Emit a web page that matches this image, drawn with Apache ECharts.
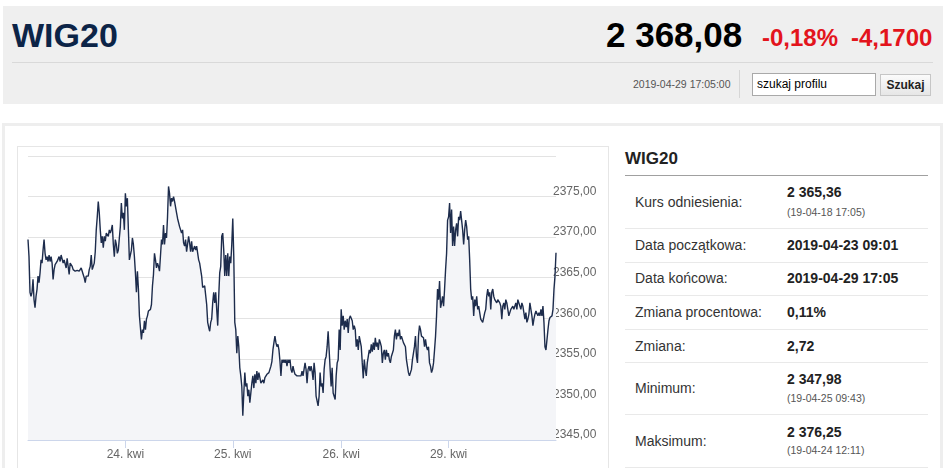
<!DOCTYPE html>
<html>
<head>
<meta charset="utf-8">
<script src="https://cdn.jsdelivr.net/npm/echarts@6/dist/echarts.min.js"></script>
<style>
  html, body { margin:0; padding:0; width:945px; height:468px; overflow:hidden; background:#fff;
    font-family:'Liberation Sans', Arial, sans-serif; }
  .a { position:absolute; white-space:nowrap; }
  .lbl { position:absolute; left:635px; font-size:14px; line-height:16px; color:#333; white-space:nowrap; }
  .val { position:absolute; left:787px; font-size:14px; line-height:16px; color:#222; font-weight:bold; white-space:nowrap; }
  .sub { position:absolute; left:787px; font-size:10.5px; line-height:12px; color:#555; white-space:nowrap; }
  .sep { position:absolute; left:625px; width:303px; height:1px; background:#e9e9e9; }
</style>
</head>
<body>
<!-- header -->
<div class="a" style="left:3px;top:6px;width:940px;height:98px;background:#efefef;"></div>
<div class="a" style="left:12px;top:18px;font-size:34px;line-height:34px;font-weight:bold;color:#0c2447;">WIG20</div>
<div class="a" style="left:606px;top:17px;font-size:35px;line-height:35px;font-weight:bold;color:#000;">2 368,08</div>
<div class="a" style="left:762px;top:26px;font-size:24px;line-height:24px;font-weight:bold;color:#e3141c;">-0,18%</div>
<div class="a" style="left:851px;top:26px;font-size:24px;line-height:24px;font-weight:bold;color:#e3141c;">-4,1700</div>
<div class="a" style="left:12px;top:62px;width:921px;height:1px;background:#d9d9d9;"></div>
<div class="a" style="left:633px;top:77px;font-size:10.5px;line-height:14px;color:#555;">2019-04-29 17:05:00</div>
<div class="a" style="left:739px;top:70px;width:1px;height:28px;background:#d6d6d6;"></div>
<div class="a" style="left:752px;top:73px;width:122px;height:21px;border:1px solid #a9a9a9;background:#fff;box-sizing:content-box;">
  <span style="position:absolute;left:4px;top:4px;font-size:12px;line-height:13px;color:#000;">szukaj profilu</span>
</div>
<div class="a" style="left:880px;top:74px;width:49px;height:20px;border:1px solid #c6c6c6;background:linear-gradient(#fbfbfb,#e6e6e6);text-align:center;">
  <span style="font-size:12px;line-height:20px;font-weight:bold;color:#222;">Szukaj</span>
</div>

<!-- content box -->
<div class="a" style="left:2px;top:123px;width:935px;height:400px;border:3px solid #eeeeee;"></div>
<div class="a" style="left:17px;top:146px;width:590px;height:340px;border:1px solid #e6e6e6;"></div>
<div id="chart" class="a" style="left:18px;top:147px;width:589px;height:321px;"></div>

<!-- right panel -->
<div class="a" style="left:625px;top:150px;font-size:17px;line-height:17px;font-weight:bold;color:#222;">WIG20</div>
<div class="a" style="left:625px;top:175px;width:303px;height:1px;background:#a0a0a0;"></div>

<div class="lbl" style="top:194px;">Kurs odniesienia:</div>
<div class="val" style="top:184px;">2 365,36</div>
<div class="sub" style="top:206px;">(19-04-18 17:05)</div>
<div class="sep" style="top:228px;"></div>

<div class="lbl" style="top:237px;">Data początkowa:</div>
<div class="val" style="top:237px;">2019-04-23 09:01</div>
<div class="sep" style="top:262px;"></div>

<div class="lbl" style="top:270px;">Data końcowa:</div>
<div class="val" style="top:270px;">2019-04-29 17:05</div>
<div class="sep" style="top:295px;"></div>

<div class="lbl" style="top:304px;">Zmiana procentowa:</div>
<div class="val" style="top:304px;">0,11%</div>
<div class="sep" style="top:329px;"></div>

<div class="lbl" style="top:338px;">Zmiana:</div>
<div class="val" style="top:338px;">2,72</div>
<div class="sep" style="top:362px;"></div>

<div class="lbl" style="top:380px;">Minimum:</div>
<div class="val" style="top:371px;">2 347,98</div>
<div class="sub" style="top:392px;">(19-04-25 09:43)</div>
<div class="sep" style="top:414px;"></div>

<div class="lbl" style="top:433px;">Maksimum:</div>
<div class="val" style="top:424px;">2 376,25</div>
<div class="sub" style="top:444px;">(19-04-24 12:11)</div>
<div class="sep" style="top:467px;"></div>

<script>
// ---- data ----
const dayLabels = ['23. kwi', '24. kwi', '25. kwi', '26. kwi', '29. kwi'];

const day23 = [2369.7,2367.6,2363.2,2362.7,2363.2,2364.8,2362.3,2361.3,2362.7,2363.6,
2365.2,2364.4,2365.6,2367.2,2366.8,2368.4,2369.7,2368.0,2367.2,2367.6,
2367.0,2367.8,2367.0,2367.6,2366.8,2364.8,2366.0,2366.6,2366.4,2367.0,
2366.8,2367.6,2367.0,2367.8,2367.6,2366.8,2367.2,2367.0,2366.2,2367.4,
2367.6,2365.4,2366.8,2367.0,2366.4,2366.0,2366.1,2365.8,2366.0,2365.9,
2366.1,2365.8,2366.0,2366.2,2365.8,2365.6,2365.0,2364.4,2365.2,2365.4,
2365.2,2366.0,2366.4,2367.8,2366.0,2366.4,2366.8,2368.2,2370.9,2372.5,
2374.4,2373.0,2370.9,2369.3,2370.1,2368.7,2370.1,2369.5,2370.5,2370.7,
2370.1,2370.9,2370.5,2370.9,2371.5,2369.1,2367.6,2369.7,2369.1,2368.0,
2368.4,2369.9,2371.3,2374.2,2372.3,2373.0,2370.9];

const day24 = [2375.4,2373.8,2374.8,2370.9,2367.2,2367.2,2368.4,2369.9,2369.1,2367.6,
2365.6,2363.2,2365.8,2363.6,2360.3,2360.3,2357.4,2358.6,2358.2,2359.7,
2358.6,2359.9,2360.3,2360.9,2360.7,2361.1,2361.7,2364.0,2365.4,2368.0,
2367.2,2366.2,2366.8,2366.4,2365.8,2365.8,2369.7,2369.1,2371.5,2369.1,
2370.5,2369.9,2372.5,2376.25,2375.4,2373.8,2374.8,2374.4,2375.0,2374.4,
2374.6,2373.0,2372.3,2372.5,2371.3,2371.3,2370.5,2370.9,2369.3,2368.9,
2369.7,2368.2,2368.0,2370.1,2369.3,2368.2,2369.5,2368.2,2368.0,2368.9,
2368.4,2368.9,2369.1,2367.2,2366.8,2366.0,2365.2,2363.8,2364.0,2364.0,
2363.8,2361.7,2359.5,2358.9,2358.4,2359.5,2359.9,2361.9,2363.2,2361.9,
2363.2,2361.1,2359.1,2362.7,2365.6,2366.4,2370.1,2370.5,2368.4,2365.2,
2367.8,2365.2,2368.0,2365.2,2367.6,2366.8,2369.1];

const day25 = [2372.3,2367.6,2359.5,2358.6,2355.7,2357.8,2356.5,2353.9,2352.9,2351.6,
2347.98,2350.8,2353.3,2351.6,2352.0,2350.4,2351.2,2349.6,2350.8,2352.0,
2352.9,2351.4,2353.1,2352.0,2353.5,2352.4,2353.3,2352.7,2352.0,2351.8,
2352.4,2352.0,2352.7,2352.7,2353.1,2352.9,2353.3,2353.7,2354.1,2354.7,
2356.1,2357.0,2357.8,2357.0,2356.5,2356.8,2356.1,2354.7,2352.9,2354.9,
2354.5,2354.9,2354.5,2354.9,2354.1,2354.9,2354.5,2354.9,2353.7,2353.3,
2354.1,2353.5,2353.1,2353.1,2352.9,2353.1,2352.9,2353.1,2352.9,2353.5,
2352.9,2353.7,2354.5,2353.7,2352.0,2353.7,2354.1,2353.5,2354.1,2353.5,
2352.4,2354.5,2353.3,2350.4,2350.2,2349.2,
2350.4,2353.3,2351.6,2352.0,2350.8,2353.7,2354.9,2355.3,2356.5,2358.4,
2356.1,2353.7,2351.6,2353.9,2350.8,2350.4,2350.0,2352.9,2354.5,2354.9,2358.6,2356.1];

const day26 = [2361.1,2359.1,2360.3,2358.6,2359.7,2358.9,2359.9,2358.2,2359.9,2360.3,
2360.5,2359.7,2358.6,2359.1,2358.6,2356.5,2357.4,2356.1,2357.8,2358.0,
2356.5,2354.5,2352.6,2354.9,2353.7,2352.9,2354.5,2355.3,2356.1,2355.7,
2356.8,2355.9,2357.0,2356.1,2357.6,2356.5,2357.0,2356.1,2357.4,2357.0,
2356.5,2354.5,2355.7,2356.1,2354.9,2356.1,2355.3,2355.7,2354.9,2354.5,
2355.3,2355.7,2356.1,2357.8,2358.6,2357.4,2358.2,2357.8,2358.6,2357.4,
2357.8,2357.4,2357.0,2357.0,2356.5,2354.9,2354.1,2353.3,2352.9,2352.9,
2353.7,2354.9,2354.9,2356.5,2357.8,2355.3,2354.5,2357.8,2359.1,2358.6,
2357.8,2357.6,2357.6,2356.5,2357.4,2356.5,2356.1,2356.5,2354.5,2354.1,
2353.3,2353.7,2354.5,2356.1,2357.8,2360.3,2363.6,2362.3,2364.6,2361.3,
2361.9,2362.7,2361.5,2363.6,2366.0,2368.0,2372.1];

const day29 = [2372.5,2374.2,2370.5,2373.4,2368.9,2371.3,2368.9,2370.9,2371.7,2370.1,
2372.5,2372.1,2373.2,2373.0,2370.9,2369.1,2370.9,2372.1,2371.3,2369.7,
2370.1,2367.2,2363.6,2362.3,2362.7,2360.3,2362.3,2361.5,2362.7,2361.1,
2361.5,2360.7,2359.9,2359.7,2359.5,2359.5,2360.7,2361.1,2362.7,2363.6,
2362.7,2363.2,2361.1,2363.2,2363.6,2362.7,2362.3,2362.3,2361.9,2362.3,
2362.3,2361.9,2361.5,2359.9,2361.5,2361.9,2361.1,2362.3,2361.9,2361.1,
2360.3,2360.7,2361.1,2360.9,2361.5,2361.1,2361.5,2361.9,2361.1,2362.3,
2361.9,2361.9,2361.1,2361.9,2361.5,2360.7,2359.9,2360.7,2359.5,2359.9,
2360.5,2361.9,2361.1,2360.3,2359.1,2359.9,2360.5,2360.9,2360.7,2360.3,
2360.7,2360.3,2361.1,2360.3,2361.5,2359.5,2356.5,2356.1,2356.3,2358.6,
2359.7,2360.1,2359.9,2360.3,2361.1,2363.6,2365.2,2368.08];

const yMin = 2345, yMax = 2380, yStep = 5;

// ---- build ----
const perDay = [day23, day24, day25, day26, day29];
const categories = [];
const values = [];
const dayStarts = new Set();
perDay.forEach((arr, d) => {
  dayStarts.add(categories.length);
  arr.forEach(v => { categories.push(dayLabels[d]); values.push(v); });
});
const showAt = (i) => i > 0 && dayStarts.has(i);

const chart = echarts.init(document.getElementById('chart'), null, { renderer: 'canvas' });
chart.setOption({
  animation: false,
  textStyle: { fontFamily: "'Liberation Sans', Arial, sans-serif" },
  grid: { left: 10, right: 51, top: 9, bottom: 28, containLabel: false },
  xAxis: {
    type: 'category',
    data: categories,
    boundaryGap: false,
    axisLine: { lineStyle: { color: '#ccd6eb', width: 1 } },
    axisTick: { show: true, interval: showAt, length: 8, lineStyle: { color: '#ccd6eb' } },
    axisLabel: { interval: showAt, color: '#666666', fontSize: 12, margin: 9 },
    splitLine: { show: false }
  },
  yAxis: {
    type: 'value',
    position: 'right',
    min: yMin, max: yMax, interval: yStep,
    axisLine: { show: false },
    axisTick: { show: false },
    splitLine: { lineStyle: { color: '#e3e3e3', width: 1 } },
    axisLabel: {
      showMaxLabel: false,
      color: '#666666', fontSize: 12, margin: -3, align: 'left',
      verticalAlign: 'bottom', lineHeight: 10,
      formatter: v => v.toFixed(2).replace('.', ',')
    }
  },
  series: [{
    type: 'line',
    data: values,
    symbol: 'none',
    lineStyle: { color: '#1d2c4c', width: 1.4 },
    areaStyle: { color: '#f4f5f8', opacity: 1 },
    z: 3
  }]
});
</script>
</body>
</html>
